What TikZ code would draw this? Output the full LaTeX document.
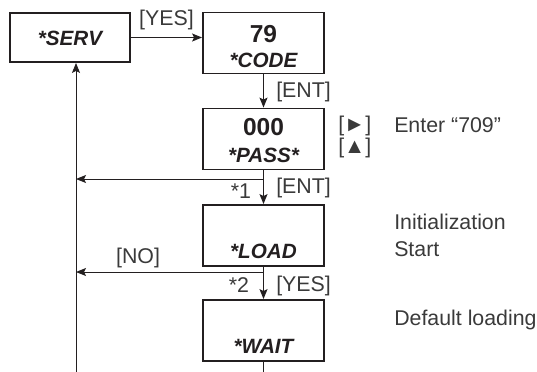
\documentclass[tikz,border=0pt]{standalone}
\usepackage{fontspec}
\setmainfont{Liberation Sans}
\usetikzlibrary{arrows.meta,positioning,calc}
\definecolor{ink}{HTML}{231F20}
\definecolor{inkdim}{HTML}{3A3A3A}
\newcommand{\labfont}{\fontsize{16}{18}\selectfont}
\newcommand{\numfont}{\fontsize{18.4}{21}\selectfont\bfseries}
\newcommand{\keyfont}{\fontsize{15.5}{18}\selectfont\bfseries\itshape}
\tikzset{
  flow/.style={-{Stealth[length=7.5pt,width=6pt,inset=1.5pt]},line width=0.75pt,ink},
  box/.style={draw=ink,line width=1.4pt,minimum width=90.75pt,minimum height=45.75pt,inner sep=0pt},
  numtext/.style={font=\numfont,text=ink,anchor=base,inner sep=0pt},
  keytext/.style={font=\keyfont,text=ink,anchor=base,inner sep=0pt},
  labeltext/.style={font=\labfont,text=inkdim,anchor=base west,inner sep=0pt}
}
\begin{document}
\begin{tikzpicture}[x=0.75pt,y=-0.75pt]
\useasboundingbox (0,0) rectangle (537,372);
% boxes
\node[box,minimum width=90pt,minimum height=36.75pt] (serv) at (70,37.5) {};
\node[box] (code) at (263.5,43) {};
\node[box] (pass) at (263.5,139) {};
\node[box] (load) at (263.5,235.5) {};
\node[box] (wait) at (263.5,330.5) {};
% box texts
\node[keytext] (serv-t) at (70,45) {*SERV};
\node[numtext] (code-n) at (263.5,42) {79};
\node[keytext] (code-t) at (263.5,67) {*CODE};
\node[numtext] (pass-n) at (263.5,135) {000};
\node[keytext] (pass-t) at (263.5,162) {*PASS*};
\node[keytext] (load-t) at (263.5,258) {*LOAD};
\node[keytext] (wait-t) at (263.5,353) {*WAIT};
% connectors
\coordinate (back) at (76,372);
\coordinate (br1) at (263.5,179);
\coordinate (br2) at (263.5,272);
\coordinate (tail) at (263.5,372);
\draw[flow] (serv.east) -- (serv.east -| code.west);
\draw[flow] (code) -- (pass);
\draw[flow] (pass) -- (load);
\draw[flow] (load) -- (wait);
\draw[line width=0.75pt,ink] (wait.south) -- (tail);
\draw[flow] (back) -- (back |- serv.south);
\draw[flow] (br1) -- (br1 -| back);
\draw[flow] (br2) -- (br2 -| back);
% labels
\node[labeltext,anchor=base] (yes1) at (166.5,25) {[YES]};
\node[labeltext] (ent1) at (276,97) {[ENT]};
\node[labeltext,anchor=base] (star1) at (241,198) {*1};
\node[labeltext] (ent2) at (276,193) {[ENT]};
\node[labeltext,anchor=base] (no) at (138,263) {[NO]};
\node[labeltext,anchor=base] (star2) at (239,292) {*2};
\node[labeltext] (yes2) at (276,291) {[YES]};
\node[labeltext] (right) at (338,131) {[►]};
\node[labeltext] (up) at (338,153) {[▲]};
% notes
\node[labeltext] (enter) at (394,132) {Enter “709”};
\node[labeltext] (init) at (394,229) {Initialization};
\node[labeltext] (start) at (394,256) {Start};
\node[labeltext] (default) at (394,325) {Default loading};
\end{tikzpicture}
\end{document}
